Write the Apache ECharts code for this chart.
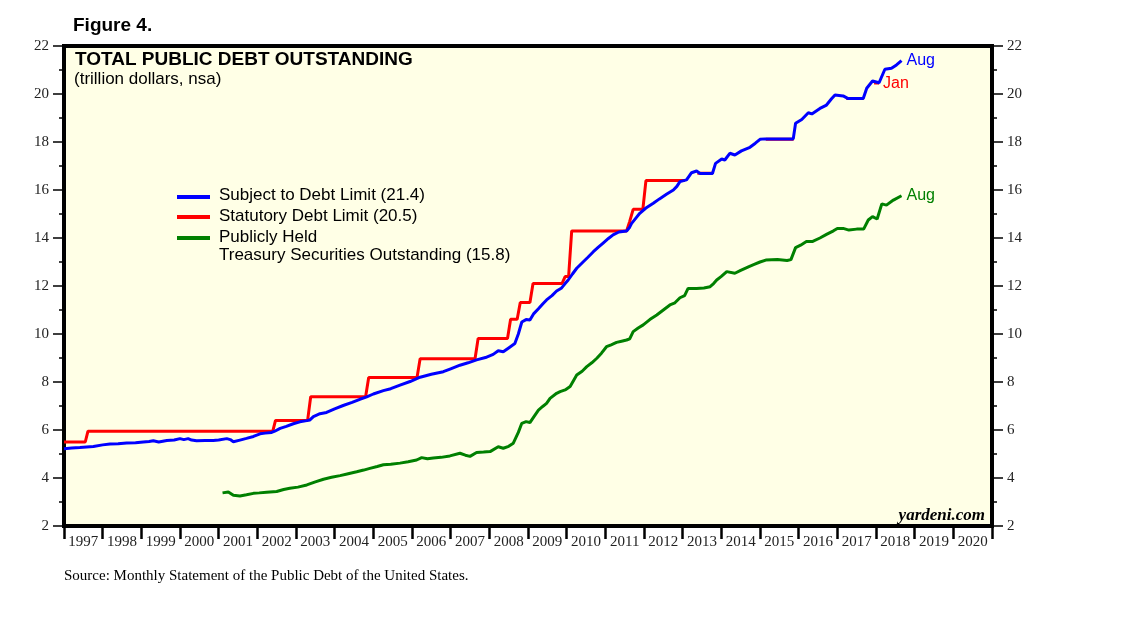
<!DOCTYPE html>
<html>
<head>
<meta charset="utf-8">
<script src="https://cdn.jsdelivr.net/npm/echarts@6/dist/echarts.min.js"></script>
<style>
html,body{margin:0;padding:0;background:#fff;}
#chart{width:1138px;height:621px;}
</style>
</head>
<body>
<div id="chart"></div>
<script>
// Tick labels
const years = ['1997','1998','1999','2000','2001','2002','2003','2004','2005','2006','2007','2008','2009','2010','2011','2012','2013','2014','2015','2016','2017','2018','2019','2020'];

// Debt subject to limit [fractional year, trillion $]
const subjectToLimit = [[1997.0,5.22],[1997.2,5.25],[1997.41,5.27],[1997.76,5.31],[1998.0,5.38],[1998.19,5.42],[1998.4,5.43],[1998.62,5.46],[1998.85,5.47],[1999.05,5.5],[1999.2,5.52],[1999.31,5.55],[1999.45,5.5],[1999.66,5.56],[1999.85,5.58],[2000.0,5.64],[2000.1,5.6],[2000.21,5.64],[2000.3,5.58],[2000.43,5.55],[2000.65,5.56],[2000.86,5.56],[2001.0,5.58],[2001.21,5.64],[2001.3,5.6],[2001.38,5.51],[2001.55,5.58],[2001.72,5.65],[2001.9,5.73],[2002.07,5.84],[2002.2,5.87],[2002.37,5.9],[2002.45,5.95],[2002.59,6.07],[2002.75,6.15],[2002.93,6.26],[2003.1,6.34],[2003.28,6.39],[2003.36,6.42],[2003.45,6.56],[2003.62,6.68],[2003.79,6.73],[2004.0,6.88],[2004.22,7.02],[2004.45,7.15],[2004.65,7.28],[2004.83,7.38],[2005.0,7.5],[2005.26,7.64],[2005.45,7.72],[2005.69,7.87],[2005.95,8.02],[2006.21,8.2],[2006.5,8.32],[2006.81,8.43],[2007.0,8.55],[2007.24,8.7],[2007.45,8.8],[2007.67,8.92],[2007.9,9.02],[2008.1,9.15],[2008.23,9.3],[2008.36,9.26],[2008.5,9.42],[2008.66,9.6],[2008.75,10.0],[2008.84,10.5],[2008.95,10.6],[2009.05,10.58],[2009.15,10.85],[2009.27,11.05],[2009.38,11.25],[2009.48,11.42],[2009.62,11.6],[2009.74,11.79],[2009.87,11.92],[2009.96,12.1],[2010.04,12.25],[2010.15,12.5],[2010.26,12.74],[2010.43,13.01],[2010.55,13.2],[2010.69,13.43],[2010.82,13.62],[2010.95,13.8],[2011.08,13.98],[2011.2,14.13],[2011.35,14.25],[2011.55,14.29],[2011.63,14.45],[2011.68,14.61],[2011.8,14.85],[2011.89,15.03],[2012.05,15.25],[2012.24,15.45],[2012.4,15.63],[2012.58,15.82],[2012.76,16.0],[2012.85,16.15],[2012.93,16.35],[2013.1,16.42],[2013.23,16.72],[2013.36,16.79],[2013.45,16.69],[2013.77,16.69],[2013.85,17.11],[2014.01,17.29],[2014.09,17.25],[2014.22,17.53],[2014.35,17.46],[2014.52,17.63],[2014.74,17.78],[2014.88,17.95],[2015.0,18.11],[2015.13,18.13],[2015.86,18.13],[2015.92,18.78],[2016.08,18.94],[2016.25,19.22],[2016.34,19.17],[2016.55,19.4],[2016.72,19.54],[2016.85,19.8],[2016.94,19.96],[2017.15,19.92],[2017.28,19.81],[2017.67,19.81],[2017.76,20.24],[2017.91,20.54],[2018.08,20.47],[2018.23,21.03],[2018.4,21.07],[2018.53,21.21],[2018.66,21.39]];

// Statutory debt limit (null = suspended)
const statutoryLimit = [[1997.0,5.5],[1997.55,5.5],[1997.62,5.95],[2002.4,5.95],[2002.47,6.4],[2003.3,6.4],[2003.38,7.384],[2004.8,7.384],[2004.88,8.184],[2006.13,8.184],[2006.21,8.965],[2007.63,8.965],[2007.71,9.815],[2008.47,9.815],[2008.55,10.615],[2008.72,10.615],[2008.8,11.315],[2009.05,11.315],[2009.13,12.104],[2009.88,12.104],[2009.96,12.394],[2010.05,12.394],[2010.13,14.294],[2011.55,14.294],[2011.63,14.694],[2011.67,14.694],[2011.72,15.194],[2011.97,15.194],[2012.05,16.394],[2013.06,16.394],[2013.2,null],[2013.38,16.699],[2013.78,16.699],[2014.5,null],[2015.15,18.113],[2015.87,18.113],[2016.5,null],[2017.23,19.809],[2017.68,19.809],[2017.8,null],[2017.95,20.456],[2018.08,20.456]];

// Publicly held Treasury securities outstanding
const publiclyHeld = [[2001.1,3.38],[2001.25,3.42],[2001.38,3.28],[2001.55,3.25],[2001.72,3.3],[2001.9,3.36],[2002.05,3.38],[2002.24,3.41],[2002.5,3.44],[2002.68,3.52],[2002.84,3.57],[2003.05,3.62],[2003.28,3.71],[2003.5,3.84],[2003.71,3.95],[2003.92,4.03],[2004.14,4.1],[2004.35,4.18],[2004.57,4.26],[2004.75,4.33],[2004.91,4.4],[2005.1,4.48],[2005.26,4.55],[2005.45,4.57],[2005.69,4.62],[2005.9,4.68],[2006.12,4.75],[2006.25,4.85],[2006.4,4.8],[2006.55,4.83],[2006.75,4.86],[2006.98,4.92],[2007.24,5.03],[2007.38,4.95],[2007.5,4.9],[2007.67,5.06],[2007.85,5.08],[2008.02,5.1],[2008.23,5.3],[2008.36,5.24],[2008.5,5.32],[2008.62,5.45],[2008.75,5.9],[2008.84,6.28],[2008.95,6.35],[2009.05,6.31],[2009.15,6.55],[2009.27,6.83],[2009.38,6.98],[2009.48,7.11],[2009.57,7.32],[2009.74,7.53],[2009.83,7.6],[2009.96,7.67],[2010.09,7.81],[2010.26,8.29],[2010.4,8.45],[2010.52,8.64],[2010.65,8.8],[2010.78,8.99],[2010.9,9.2],[2011.03,9.47],[2011.15,9.55],[2011.29,9.65],[2011.42,9.7],[2011.55,9.75],[2011.63,9.8],[2011.72,10.1],[2011.85,10.25],[2011.98,10.38],[2012.15,10.6],[2012.33,10.79],[2012.5,11.0],[2012.67,11.21],[2012.8,11.3],[2012.93,11.51],[2013.05,11.6],[2013.14,11.9],[2013.36,11.9],[2013.55,11.92],[2013.71,11.97],[2013.8,12.1],[2013.88,12.25],[2014.0,12.4],[2014.14,12.6],[2014.35,12.53],[2014.5,12.65],[2014.7,12.8],[2014.85,12.9],[2015.0,13.0],[2015.15,13.08],[2015.45,13.1],[2015.7,13.06],[2015.8,13.1],[2015.92,13.6],[2016.05,13.7],[2016.2,13.85],[2016.35,13.85],[2016.55,14.0],[2016.72,14.15],[2016.9,14.3],[2017.0,14.4],[2017.15,14.4],[2017.3,14.33],[2017.5,14.37],[2017.68,14.37],[2017.8,14.75],[2017.91,14.89],[2018.03,14.79],[2018.15,15.42],[2018.27,15.37],[2018.45,15.58],[2018.66,15.76]];

const legendNames = ['Subject to Debt Limit (21.4)','Statutory Debt Limit (20.5)','Publicly Held','Treasury Securities Outstanding (15.8)'];

const chart = echarts.init(document.getElementById('chart'), null, {renderer:'canvas'});
const serif = '"Liberation Serif","Times New Roman",serif';
const sans = '"Liberation Sans",Arial,sans-serif';

const yAxisCommon = {
  type:'value', min:2, max:22, interval:2,
  axisLine:{show:true, lineStyle:{color:'#000', width:4}},
  axisTick:{show:true, inside:false, length:11, lineStyle:{color:'#000', width:1.5}},
  minorTick:{show:true, splitNumber:2, length:5, lineStyle:{color:'#000', width:1.5}},
  splitLine:{show:false},
  axisLabel:{fontFamily:serif, fontSize:15, color:'#222', margin:15}
};

chart.setOption({
  animation:false,
  backgroundColor:'#fff',
  grid:{left:64, right:146, top:46, bottom:95, show:true, backgroundColor:'#FFFFE6', borderColor:'#000', borderWidth:4},
  xAxis:[
    {type:'category', data:years, boundaryGap:true, position:'bottom',
     axisLine:{show:true, lineStyle:{color:'#000', width:4}},
     axisTick:{show:true, length:13, alignWithLabel:false, lineStyle:{color:'#000', width:2.5}},
     axisLabel:{fontFamily:serif, fontSize:15, color:'#222', margin:9, interval:0},
     splitLine:{show:false}},
    {type:'value', min:1997, max:2021, show:false, splitLine:{show:false}}
  ],
  yAxis:[
    Object.assign({position:'left'}, yAxisCommon),
    Object.assign({position:'right'}, yAxisCommon)
  ],
  series:[
    {name:'Statutory Debt Limit', type:'line', xAxisIndex:1, yAxisIndex:0, data:statutoryLimit, showSymbol:false, connectNulls:false,
     lineStyle:{color:'#FF0000', width:3}, itemStyle:{color:'#FF0000'}, z:2,
     endLabel:{show:true, formatter:'Jan', color:'#FF0000', fontFamily:sans, fontSize:16, distance:4, offset:[0,1]}},
    {name:'Publicly Held', type:'line', xAxisIndex:1, yAxisIndex:0, data:publiclyHeld, showSymbol:false,
     lineStyle:{color:'#008000', width:3}, itemStyle:{color:'#008000'}, z:3,
     endLabel:{show:true, formatter:'Aug', color:'#008000', fontFamily:sans, fontSize:16, distance:5}},
    {name:'Subject to Debt Limit', type:'line', xAxisIndex:1, yAxisIndex:0, data:subjectToLimit, showSymbol:false,
     lineStyle:{color:'#0000FF', width:3}, itemStyle:{color:'#0000FF'}, z:4,
     endLabel:{show:true, formatter:'Aug', color:'#0000FF', fontFamily:sans, fontSize:16, distance:5}}
  ],
  graphic:[
    {type:'text', left:73, top:16, style:{text:'Figure 4.', font:'bold 19px '+sans, fill:'#000'}},
    {type:'text', left:75, top:50, z:10, style:{text:'TOTAL PUBLIC DEBT OUTSTANDING', font:'bold 19px '+sans, fill:'#000'}},
    {type:'text', left:74, top:71, z:10, style:{text:'(trillion dollars, nsa)', font:'17px '+sans, fill:'#000'}},
    {type:'line', z:10, shape:{x1:177, y1:197, x2:210, y2:197}, style:{stroke:'#0000FF', lineWidth:4}},
    {type:'line', z:10, shape:{x1:177, y1:217, x2:210, y2:217}, style:{stroke:'#FF0000', lineWidth:4}},
    {type:'line', z:10, shape:{x1:177, y1:238, x2:210, y2:238}, style:{stroke:'#008000', lineWidth:4}},
    {type:'text', left:219, top:187, z:10, style:{text:legendNames[0], font:'17px '+sans, fill:'#000'}},
    {type:'text', left:219, top:208, z:10, style:{text:legendNames[1], font:'17px '+sans, fill:'#000'}},
    {type:'text', left:219, top:229, z:10, style:{text:legendNames[2], font:'17px '+sans, fill:'#000'}},
    {type:'text', left:219, top:247, z:10, style:{text:legendNames[3], font:'17px '+sans, fill:'#000'}},
    {type:'text', right:153, top:507, z:10, style:{text:'yardeni.com', font:'italic bold 17px '+serif, fill:'#000'}},
    {type:'text', left:64, top:569, style:{text:'Source: Monthly Statement of the Public Debt of the United States.', font:'15px '+serif, fill:'#000'}}
  ]
});
</script>
</body>
</html>
